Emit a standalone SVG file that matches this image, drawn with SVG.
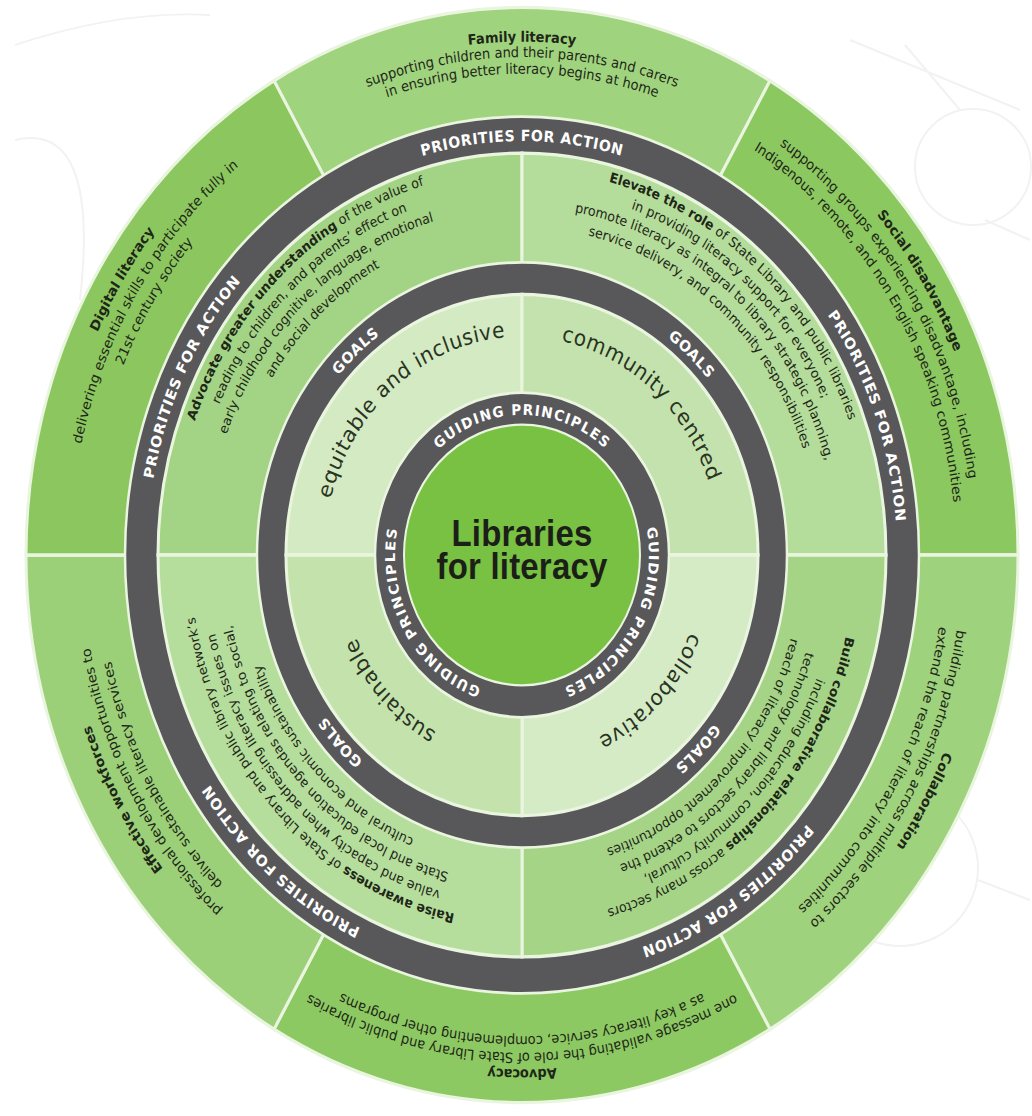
<svg xmlns="http://www.w3.org/2000/svg" width="1032" height="1116" viewBox="0 0 1032 1116">
<defs>
<style>
.t{font-family:'DejaVu Sans',sans-serif;font-size:13px;fill:#1e2618}
.p{font-family:'DejaVu Sans',sans-serif;font-size:12.5px;fill:#1e2618}
.lbl{font-family:'DejaVu Sans',sans-serif;font-weight:bold;font-size:14px;fill:#ffffff;letter-spacing:0.6px}
.gp{font-family:'DejaVu Sans',sans-serif;font-weight:bold;font-size:13.5px;fill:#ffffff;letter-spacing:1.3px}
.gw{font-family:'DejaVu Sans',sans-serif;font-size:20px;fill:#2a3322;letter-spacing:0.5px}
.ctr{font-family:'Liberation Sans',Arial,sans-serif;font-size:33px;font-weight:bold;fill:#1c1f18;letter-spacing:0.2px}
.dark{fill:#58585a;stroke:#eaf5df;stroke-width:2.5}
.seg{stroke:#eaf5df;stroke-width:3}
.bg{fill:none;stroke:#f2f2f2;stroke-width:2}
</style>
<path id="r470" d="M0 470A470 470 0 0 1 0 -470A470 470 0 0 1 0 470"/>
<path id="r466" d="M0 466A466 466 0 0 1 0 -466A466 466 0 0 1 0 466"/>
<path id="r465" d="M0 465A465 465 0 0 1 0 -465A465 465 0 0 1 0 465"/>
<path id="r458" d="M0 458A458 458 0 0 1 0 -458A458 458 0 0 1 0 458"/>
<path id="r452" d="M0 452A452 452 0 0 1 0 -452A452 452 0 0 1 0 452"/>
<path id="r451" d="M0 451A451 451 0 0 1 0 -451A451 451 0 0 1 0 451"/>
<path id="r440" d="M0 440A440 440 0 0 1 0 -440A440 440 0 0 1 0 440"/>
<path id="r436" d="M0 436A436 436 0 0 1 0 -436A436 436 0 0 1 0 436"/>
<path id="r434" d="M0 434A434 434 0 0 1 0 -434A434 434 0 0 1 0 434"/>
<path id="r422" d="M0 422A422 422 0 0 1 0 -422A422 422 0 0 1 0 422"/>
<path id="r375" d="M0 375A375 375 0 0 1 0 -375A375 375 0 0 1 0 375"/>
<path id="r349" d="M0 349A349 349 0 0 1 0 -349A349 349 0 0 1 0 349"/>
<path id="r332" d="M0 332A332 332 0 0 1 0 -332A332 332 0 0 1 0 332"/>
<path id="r315" d="M0 315A315 315 0 0 1 0 -315A315 315 0 0 1 0 315"/>
<path id="r297" d="M0 297A297 297 0 0 1 0 -297A297 297 0 0 1 0 297"/>
<path id="r279" d="M0 279A279 279 0 0 1 0 -279A279 279 0 0 1 0 279"/>
<path id="r245" d="M0 245A245 245 0 0 1 0 -245A245 245 0 0 1 0 245"/>
<path id="r198" d="M0 198A198 198 0 0 1 0 -198A198 198 0 0 1 0 198"/>
<path id="r182" d="M0 182A182 182 0 0 1 0 -182A182 182 0 0 1 0 182"/>
<path id="r127" d="M0 127A127 127 0 0 1 0 -127A127 127 0 0 1 0 127"/>
</defs>
<rect width="1032" height="1116" fill="#ffffff"/>
<g id="background">
<circle class="bg" cx="973" cy="167" r="58"/>
<path class="bg" d="M850 40L1020 110M905 45L960 110M1030 240L985 220M900 868m-78 0a78 78 0 1 0 156 0a78 78 0 1 0 -156 0M900 790L905 700M978 880L1030 900M15 45Q120 10 210 15M15 140Q100 120 80 300"/>
</g>
<g transform="translate(522,555) scale(1,1.104)">
<g id="outer-ring">
<g id="family-literacy">
<path class="seg" fill="#a0d37e" d="M0 0L-248 -429.55A496 496 0 0 1 248 -429.55Z"/>
<text class="t" text-anchor="middle"><textPath href="#r465" startOffset="50%" font-weight="bold">Family literacy</textPath></text>
<text class="t" text-anchor="middle"><textPath href="#r451" startOffset="50%">supporting children and their parents and carers</textPath></text>
<text class="t" text-anchor="middle"><textPath href="#r436" startOffset="50%">in ensuring better literacy begins at home</textPath></text>
</g>
<g id="social-disadvantage">
<path class="seg" fill="#8cc860" d="M0 0L248 -429.55A496 496 0 0 1 496 0Z"/>
<g transform="rotate(58)">
<text class="t" text-anchor="middle"><textPath href="#r470" startOffset="50%" font-weight="bold">Social disadvantage</textPath></text>
<text class="t" text-anchor="middle"><textPath href="#r452" startOffset="50%">supporting groups experiencing disadvantage, including</textPath></text>
<text class="t" text-anchor="middle"><textPath href="#r434" startOffset="50%">Indigenous, remote, and non English speaking communities</textPath></text>
</g>
</g>
<g id="collaboration">
<path class="seg" fill="#9fd27c" d="M0 0L496 0A496 496 0 0 1 248 429.55Z"/>
<g transform="rotate(119)">
<text class="t" text-anchor="middle"><textPath href="#r458" startOffset="50%" font-weight="bold">Collaboration</textPath></text>
<text class="t" text-anchor="middle"><textPath href="#r440" startOffset="50%">building partnerships across multiple sectors to</textPath></text>
<text class="t" text-anchor="middle"><textPath href="#r422" startOffset="50%">extend the reach of literacy into communities</textPath></text>
</g>
</g>
<g id="advocacy">
<path class="seg" fill="#8dc962" d="M0 0L248 429.55A496 496 0 0 1 -248 429.55Z"/>
<g transform="rotate(180)">
<text class="t" text-anchor="middle"><textPath href="#r466" startOffset="50%" font-weight="bold">Advocacy</textPath></text>
<text class="t" text-anchor="middle"><textPath href="#r451" startOffset="50%">one message validating the role of State Library and public libraries</textPath></text>
<text class="t" text-anchor="middle"><textPath href="#r436" startOffset="50%">as a key literacy service, complementing other programs</textPath></text>
</g>
</g>
<g id="effective-workforces">
<path class="seg" fill="#9bd079" d="M0 0L-248 429.55A496 496 0 0 1 -496 0Z"/>
<g transform="rotate(241)">
<text class="t" text-anchor="middle"><textPath href="#r458" startOffset="50%" font-weight="bold">Effective workforces</textPath></text>
<text class="t" text-anchor="middle"><textPath href="#r440" startOffset="50%">professional development opportunities to</textPath></text>
<text class="t" text-anchor="middle"><textPath href="#r422" startOffset="50%">deliver sustainable literacy services</textPath></text>
</g>
</g>
<g id="digital-literacy">
<path class="seg" fill="#8bc75e" d="M0 0L-496 0A496 496 0 0 1 -248 -429.55Z"/>
<g transform="rotate(302)">
<text class="t" text-anchor="middle"><textPath href="#r470" startOffset="50%" font-weight="bold">Digital literacy</textPath></text>
<text class="t" text-anchor="middle"><textPath href="#r452" startOffset="50%">delivering essential skills to participate fully in</textPath></text>
<text class="t" text-anchor="middle"><textPath href="#r434" startOffset="50%">21st century society</textPath></text>
</g>
</g>
</g>
<g id="priorities-ring">
<circle class="dark" r="397"/>
<text class="lbl" text-anchor="middle"><textPath href="#r375" startOffset="50%">PRIORITIES FOR ACTION</textPath></text>
<g transform="rotate(70)"><text class="lbl" text-anchor="middle"><textPath href="#r375" startOffset="50%">PRIORITIES FOR ACTION</textPath></text></g>
<g transform="rotate(146)"><text class="lbl" text-anchor="middle"><textPath href="#r375" startOffset="50%">PRIORITIES FOR ACTION</textPath></text></g>
<g transform="rotate(221)"><text class="lbl" text-anchor="middle"><textPath href="#r375" startOffset="50%">PRIORITIES FOR ACTION</textPath></text></g>
<g transform="rotate(296)"><text class="lbl" text-anchor="middle"><textPath href="#r375" startOffset="50%">PRIORITIES FOR ACTION</textPath></text></g>
</g>
<g id="priorities-band">
<g id="advocate">
<path class="seg" fill="#a3d384" d="M0 0L-364 0A364 364 0 0 1 0 -364Z"/>
<g transform="rotate(317)">
<text class="p" text-anchor="middle"><textPath href="#r349" startOffset="50%"><tspan font-weight="bold">Advocate greater understanding</tspan> of the value of</textPath></text>
<text class="p" text-anchor="middle"><textPath href="#r332" startOffset="50%">reading to children, and parents’ effect on</textPath></text>
<text class="p" text-anchor="middle"><textPath href="#r315" startOffset="50%">early childhood cognitive, language, emotional</textPath></text>
<text class="p" text-anchor="middle"><textPath href="#r297" startOffset="50%">and social development</textPath></text>
</g>
</g>
<g id="elevate">
<path class="seg" fill="#b4dc9a" d="M0 0L0 -364A364 364 0 0 1 364 0Z"/>
<g transform="rotate(42)">
<text class="p" text-anchor="middle"><textPath href="#r349" startOffset="50%"><tspan font-weight="bold">Elevate the role</tspan> of State Library and public libraries</textPath></text>
<text class="p" text-anchor="middle"><textPath href="#r332" startOffset="50%">in providing literacy support for everyone;</textPath></text>
<text class="p" text-anchor="middle"><textPath href="#r315" startOffset="50%">promote literacy as integral to library strategic planning,</textPath></text>
<text class="p" text-anchor="middle"><textPath href="#r297" startOffset="50%">service delivery, and community responsibilities</textPath></text>
</g>
</g>
<g id="build">
<path class="seg" fill="#a5d487" d="M0 0L364 0A364 364 0 0 1 0 364Z"/>
<g transform="rotate(134)">
<text class="p" text-anchor="middle"><textPath href="#r332" startOffset="50%"><tspan font-weight="bold">Build collaborative relationships</tspan> across many sectors</textPath></text>
<text class="p" text-anchor="middle"><textPath href="#r315" startOffset="50%">including education, community cultural,</textPath></text>
<text class="p" text-anchor="middle"><textPath href="#r297" startOffset="50%">technology and library sectors to extend the</textPath></text>
<text class="p" text-anchor="middle"><textPath href="#r279" startOffset="50%">reach of literacy improvement opportunities</textPath></text>
</g>
</g>
<g id="raise">
<path class="seg" fill="#b5dd9c" d="M0 0L0 364A364 364 0 0 1 -364 0Z"/>
<g transform="rotate(226)">
<text class="p" text-anchor="middle"><textPath href="#r332" startOffset="50%"><tspan font-weight="bold">Raise awareness</tspan> of State Library and public library network’s</textPath></text>
<text class="p" text-anchor="middle"><textPath href="#r315" startOffset="50%">value and capacity when addressing literacy issues on</textPath></text>
<text class="p" text-anchor="middle"><textPath href="#r297" startOffset="50%">State and local education agendas relating to social,</textPath></text>
<text class="p" text-anchor="middle"><textPath href="#r279" startOffset="50%">cultural and economic sustainability</textPath></text>
</g>
</g>
</g>
<g id="goals-ring">
<circle class="dark" r="265"/>
<g transform="rotate(318)"><text class="lbl" text-anchor="middle"><textPath href="#r245" startOffset="50%">GOALS</textPath></text></g>
<g transform="rotate(43)"><text class="lbl" text-anchor="middle"><textPath href="#r245" startOffset="50%">GOALS</textPath></text></g>
<g transform="rotate(135)"><text class="lbl" text-anchor="middle"><textPath href="#r245" startOffset="50%">GOALS</textPath></text></g>
<g transform="rotate(227)"><text class="lbl" text-anchor="middle"><textPath href="#r245" startOffset="50%">GOALS</textPath></text></g>
</g>
<g id="goals-band">
<g id="goal-equitable">
<path class="seg" fill="#d3eac3" d="M0 0L-236 0A236 236 0 0 1 0 -236Z"/>
<g transform="rotate(320)"><text class="gw" text-anchor="middle"><textPath href="#r198" startOffset="50%">equitable and inclusive</textPath></text></g>
</g>
<g id="goal-community">
<path class="seg" fill="#c3e2ad" d="M0 0L0 -236A236 236 0 0 1 236 0Z"/>
<g transform="rotate(41)"><text class="gw" text-anchor="middle"><textPath href="#r198" startOffset="50%">community centred</textPath></text></g>
</g>
<g id="goal-collaborative">
<path class="seg" fill="#d4ebc6" d="M0 0L236 0A236 236 0 0 1 0 236Z"/>
<g transform="rotate(134)"><text class="gw" text-anchor="middle"><textPath href="#r182" startOffset="50%">collaborative</textPath></text></g>
</g>
<g id="goal-sustainable">
<path class="seg" fill="#c3e2ac" d="M0 0L0 236A236 236 0 0 1 -236 0Z"/>
<g transform="rotate(227)"><text class="gw" text-anchor="middle"><textPath href="#r182" startOffset="50%">sustainable</textPath></text></g>
</g>
</g>
<g id="guiding-ring">
<circle class="dark" r="147"/>
<text class="gp" text-anchor="middle"><textPath href="#r127" startOffset="50%">GUIDING PRINCIPLES</textPath></text>
<g transform="rotate(120)"><text class="gp" text-anchor="middle"><textPath href="#r127" startOffset="50%">GUIDING PRINCIPLES</textPath></text></g>
<g transform="rotate(240)"><text class="gp" text-anchor="middle"><textPath href="#r127" startOffset="50%">GUIDING PRINCIPLES</textPath></text></g>
</g>
<g id="center">
<circle r="118" fill="#79c143" stroke="#eaf5df" stroke-width="2"/>
<text class="ctr" x="0" y="-8" text-anchor="middle">Libraries</text>
<text class="ctr" x="0" y="22" text-anchor="middle">for literacy</text>
</g>
</g>
<g id="connectors"/>
</svg>
